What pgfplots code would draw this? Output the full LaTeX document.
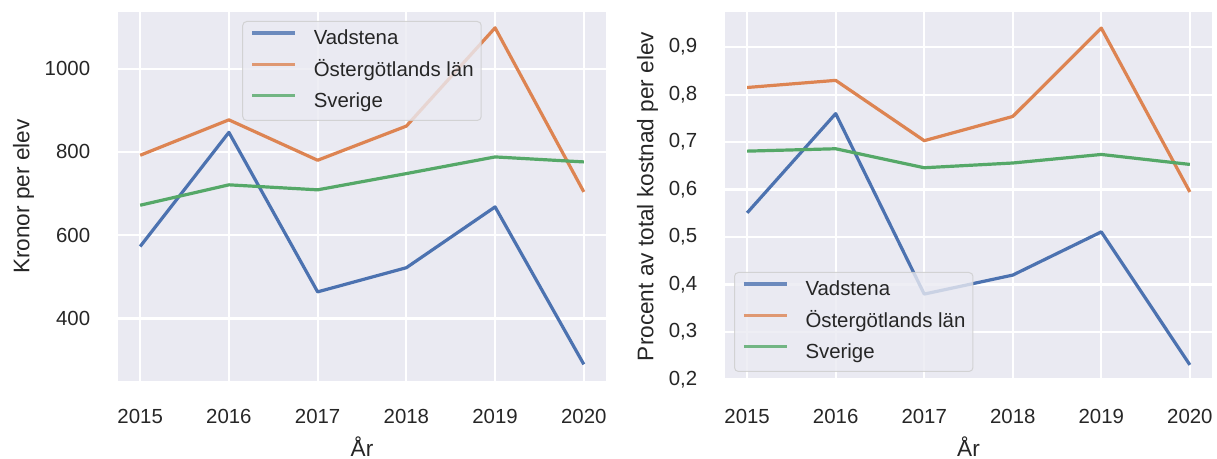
\documentclass[border=0pt]{standalone}
\usepackage{pgfplots}
\pgfplotsset{compat=1.18}
\usepackage{fontspec}
\setmainfont{Liberation Sans}
\definecolor{sbblue}{HTML}{4C72B0}
\definecolor{sborange}{HTML}{DD8452}
\definecolor{sbgreen}{HTML}{55A868}
\definecolor{sbbg}{HTML}{EAEAF2}
\definecolor{sbtext}{HTML}{262626}
\definecolor{sbedge}{HTML}{CCCCCC}
\begin{document}
\begin{tikzpicture}[font=\fontsize{10.2}{12}\selectfont, text=sbtext]
\path[use as bounding box] (0,0) rectangle (608.5pt,229.5pt);
\pgfplotsset{
  sbstyle/.style={
    scale only axis,
    height=184.5pt,
    axis background/.style={fill=sbbg},
    axis line style={draw=none},
    grid=major,
    major grid style={white, line width=1.1pt},
    tick style={draw=none},
    xmin=2014.75, xmax=2020.25,
    xtick={2015,2016,2017,2018,2019,2020},
    /pgf/number format/assume math mode=true,
    /pgf/number format/1000 sep={},
    ticklabel style={font=\fontsize{10.2}{12}\selectfont, text=sbtext},
    xticklabel shift=10.4pt,
    yticklabel shift=10.4pt,
    xlabel={År},
    label style={font=\fontsize{11.3}{13.5}\selectfont, text=sbtext},
    ylabel style={yshift=-1.5pt},
    every axis plot/.append style={line width=1.6pt, line join=round, mark=none},
    legend cell align=left,
    legend image code/.code={\draw[##1, line width=1.7pt] (0pt,0.33em) -- (21.5pt,0.33em);},
    legend style={
      font=\fontsize{10.2}{12}\selectfont,
      fill=sbbg, fill opacity=0.8, draw=sbedge, draw opacity=0.8,
      text opacity=1, rounded corners=2pt, line width=0.5pt,
      inner xsep=3.8pt, inner ysep=4.2pt,
      row sep=6pt,
      nodes={inner sep=0pt, text height=7.5pt, text depth=2.2pt, text=sbtext},
      /tikz/every odd column/.append style={column sep=8.5pt},
    },
  }
}
\begin{axis}[sbstyle, at={(59pt,39pt)}, anchor=south west, width=244pt,
  ymin=250, ymax=1136, ytick={400,600,800,1000},
  ylabel={Kronor per elev},
  legend style={at={(0.5,1)}, anchor=north, yshift=-4.5pt}]
\addplot[sbblue] coordinates {(2015,573) (2016,847) (2017,464) (2018,522) (2019,668) (2020,290)};
\addplot[sborange] coordinates {(2015,792) (2016,877) (2017,780) (2018,862) (2019,1098) (2020,704)};
\addplot[sbgreen] coordinates {(2015,672) (2016,721) (2017,709) (2018,748) (2019,788) (2020,776)};
\legend{Vadstena, Östergötlands län, Sverige}
\end{axis}
\begin{axis}[sbstyle, at={(362.5pt,39pt)}, anchor=south west, width=243.5pt,
  ymin=0.197, ymax=0.974, ytick={0.2,0.3,0.4,0.5,0.6,0.7,0.8,0.9},
  yticklabel style={/pgf/number format/.cd, use comma, fixed, fixed zerofill, precision=1},
  ylabel={Procent av total kostnad per elev},
  legend style={at={(0,0)}, anchor=south west, xshift=4.5pt, yshift=4.5pt}]
\addplot[sbblue] coordinates {(2015,0.551) (2016,0.760) (2017,0.380) (2018,0.420) (2019,0.511) (2020,0.231)};
\addplot[sborange] coordinates {(2015,0.815) (2016,0.830) (2017,0.703) (2018,0.754) (2019,0.940) (2020,0.595)};
\addplot[sbgreen] coordinates {(2015,0.681) (2016,0.686) (2017,0.646) (2018,0.656) (2019,0.674) (2020,0.653)};
\legend{Vadstena, Östergötlands län, Sverige}
\end{axis}
\end{tikzpicture}
\end{document}
